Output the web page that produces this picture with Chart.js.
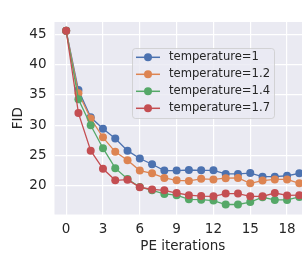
<!DOCTYPE html>
<html>
<head>
<meta charset="utf-8">
<script src="https://cdn.jsdelivr.net/npm/chart.js@4.4.0/dist/chart.umd.min.js"></script>
<style>
html,body{margin:0;padding:0;background:#fff;overflow:hidden;}
#wrap{width:315px;height:261px;}
</style>
</head>
<body>
<div id="wrap"><canvas id="c" width="315" height="261"></canvas></div>
<script>
const iterations = [0,1,2,3,4,5,6,7,8,9,10,11,12,13,14,15,16,17,18,19];
const xTickValues = [0,3,6,9,12,15,18];
const yTickValues = [20,25,30,35,40,45];
const seriesLabels = ['temperature=1','temperature=1.2','temperature=1.4','temperature=1.7'];
const temp1  = [45.6,35.8,31.3,29.4,27.8,25.8,24.5,23.55,22.5,22.5,22.6,22.55,22.55,21.95,21.95,22.1,21.5,21.5,21.65,22.05];
const temp12 = [45.6,35.3,31.1,28.0,25.6,24.2,22.5,22.05,21.3,20.9,20.8,21.15,21.05,21.25,21.3,20.4,20.85,21.05,21.05,20.4];
const temp14 = [45.6,34.3,30.0,26.2,22.9,21.1,19.8,19.25,18.65,18.45,17.75,17.7,17.55,16.9,16.9,17.3,18.1,17.65,17.65,18.15];
const temp17 = [45.6,32.0,25.8,22.8,20.9,21.0,19.75,19.4,19.25,18.8,18.45,18.3,18.25,18.7,18.7,18.25,18.25,18.8,18.4,18.45];
const seriesValues = [temp1,temp12,temp14,temp17];
const colors = ['#4C72B0','#DD8452','#55A868','#C44E52'];

const FONT = 'DejaVu Sans';
const TXT = '#262626';

const bgPlugin = {
  id:'bg',
  beforeDraw(chart){
    const {ctx, chartArea:a} = chart;
    ctx.save();
    ctx.fillStyle = '#EAEAF2';
    ctx.fillRect(a.left, a.top, a.right-a.left, a.bottom-a.top);
    ctx.restore();
  }
};

const legendPlugin = {
  id:'customLegend',
  afterDatasetsDraw(chart){
    const ctx = chart.ctx;
    ctx.save();
    const x=132.5, y=48.5, w=142, h=70, r=3;
    ctx.beginPath();
    ctx.moveTo(x+r,y); ctx.lineTo(x+w-r,y); ctx.arcTo(x+w,y,x+w,y+r,r);
    ctx.lineTo(x+w,y+h-r); ctx.arcTo(x+w,y+h,x+w-r,y+h,r);
    ctx.lineTo(x+r,y+h); ctx.arcTo(x,y+h,x,y+h-r,r);
    ctx.lineTo(x,y+r); ctx.arcTo(x,y,x+r,y,r);
    ctx.closePath();
    ctx.fillStyle='rgba(234,234,242,0.8)';
    ctx.fill();
    ctx.strokeStyle='rgba(204,204,204,0.8)';
    ctx.lineWidth=1;
    ctx.stroke();
    const rows=[57.3,74.3,91.3,108.3];
    chart.data.datasets.forEach((ds,i)=>{
      const yy=rows[i];
      ctx.strokeStyle=ds.borderColor;
      ctx.lineWidth=1.5;
      ctx.beginPath(); ctx.moveTo(136,yy); ctx.lineTo(160,yy); ctx.stroke();
      ctx.fillStyle=ds.borderColor;
      ctx.beginPath(); ctx.arc(148,yy,4,0,Math.PI*2); ctx.fill();
      ctx.fillStyle=TXT;
      ctx.font='11.6px "'+FONT+'"';
      ctx.textBaseline='middle';
      ctx.textAlign='left';
      ctx.fillText(ds.label,169,yy);
    });
    ctx.restore();
  }
};

const datasets = seriesValues.map((vals,i)=>({
  label: seriesLabels[i],
  data: iterations.map((it,j)=>({x:it,y:vals[j]})),
  borderColor: colors[i],
  backgroundColor: colors[i],
  pointBackgroundColor: colors[i],
  pointBorderWidth: 0,
  pointRadius: 4,
  borderWidth: 1.3,
  order: 4-i,
  tension: 0
}));

new Chart(document.getElementById('c'), {
  type:'line',
  data:{datasets},
  plugins:[bgPlugin, legendPlugin],
  options:{
    responsive:false,
    animation:false,
    devicePixelRatio:1,
    layout:{padding:{top:22,left:0,right:0.8,bottom:0}},
    plugins:{legend:{display:false},tooltip:{enabled:false}},
    scales:{
      x:{
        type:'linear',
        min:-0.95, max:19.95,
        afterFit(s){ s.height = 46.5; },
        afterBuildTicks(s){ s.ticks = xTickValues.map(v=>({value:v})); },
        grid:{color:'#FFFFFF', lineWidth:1.2, drawTicks:false},
        border:{display:false},
        ticks:{font:{family:FONT,size:13.5}, color:TXT, padding:7, maxRotation:0, autoSkip:false},
        title:{display:true, text:'PE iterations', font:{family:FONT,size:13.5}, color:TXT, padding:{top:0,bottom:6.5}}
      },
      y:{
        type:'linear',
        min:15.25, max:47.05,
        afterFit(s){ s.width = 54.5; },
        afterBuildTicks(s){ s.ticks = yTickValues.map(v=>({value:v})); },
        grid:{color:'#FFFFFF', lineWidth:1.2, drawTicks:false},
        border:{display:false},
        ticks:{font:{family:FONT,size:13.5}, color:TXT, padding:8, autoSkip:false},
        title:{display:true, text:'FID', font:{family:FONT,size:13.5}, color:TXT, padding:{top:10,bottom:0}}
      }
    }
  }
});
</script>
</body>
</html>
